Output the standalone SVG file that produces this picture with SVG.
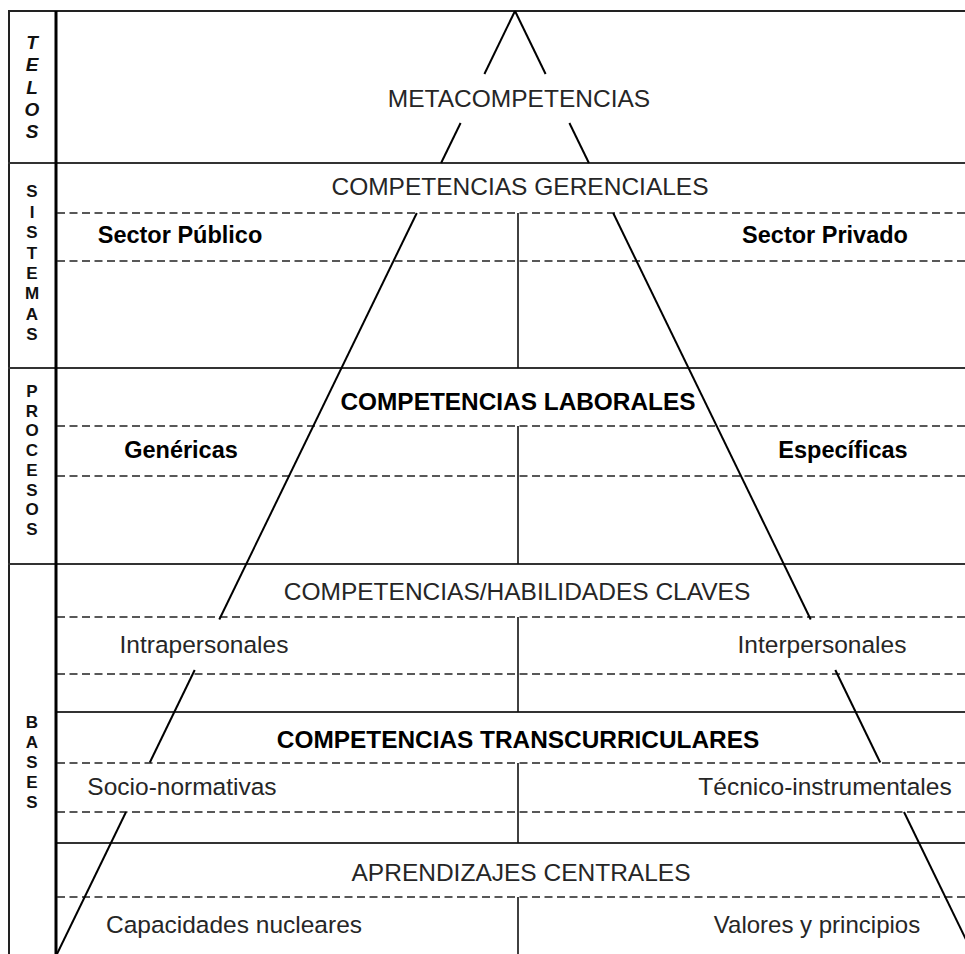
<svg xmlns="http://www.w3.org/2000/svg" width="965" height="954" viewBox="0 0 965 954">
  <style>
    .bg { fill: #ffffff; }
    .frame { stroke: #222; stroke-width: 2; fill: none; }
    .axis { stroke: #000; stroke-width: 3; fill: none; }
    .rule { stroke: #333; stroke-width: 2; fill: none; }
    .dash { stroke: #222; stroke-width: 1.6; stroke-dasharray: 8 4.5; fill: none; }
    .split { stroke: #111; stroke-width: 1.6; fill: none; }
    .edge { stroke: #000; stroke-width: 2; fill: none; stroke-linecap: butt; }
    .t { font-family: "Liberation Sans", Arial, sans-serif; font-size: 24.5px; fill: #262626; text-anchor: middle; }
    .tb { font-family: "Liberation Sans", Arial, sans-serif; font-size: 24.4px; font-weight: bold; fill: #000; text-anchor: middle; }
    .sub { font-family: "Liberation Sans", Arial, sans-serif; font-size: 23.5px; font-weight: bold; fill: #000; text-anchor: middle; }
    .side { font-family: "Liberation Sans", Arial, sans-serif; font-size: 17px; font-weight: bold; fill: #111; text-anchor: middle; }
    .sideit { font-family: "Liberation Sans", Arial, sans-serif; font-size: 19px; font-weight: bold; font-style: italic; fill: #111; text-anchor: middle; }
  </style>

  <rect class="bg" x="0" y="0" width="965" height="954"/>

  <!-- outer frame and level separators -->
  <g id="frame">
    <line class="frame" x1="8" y1="11" x2="965" y2="11"/>
    <line class="frame" x1="9" y1="11" x2="9" y2="954"/>
    <line class="rule" x1="8" y1="163" x2="965" y2="163"/>
    <line class="rule" x1="8" y1="368" x2="965" y2="368"/>
    <line class="rule" x1="8" y1="564" x2="965" y2="564"/>
    <line class="rule" x1="56" y1="712" x2="965" y2="712"/>
    <line class="rule" x1="56" y1="843" x2="965" y2="843"/>
    <line class="axis" x1="56" y1="11" x2="56" y2="954"/>
  </g>

  <!-- dashed sub-row dividers -->
  <g id="subrows">
    <line class="dash" x1="57" y1="213" x2="965" y2="213"/>
    <line class="dash" x1="57" y1="261" x2="965" y2="261"/>
    <line class="dash" x1="57" y1="426" x2="965" y2="426"/>
    <line class="dash" x1="57" y1="476" x2="965" y2="476"/>
    <line class="dash" x1="57" y1="617" x2="965" y2="617"/>
    <line class="dash" x1="57" y1="674" x2="965" y2="674"/>
    <line class="dash" x1="57" y1="763" x2="965" y2="763"/>
    <line class="dash" x1="57" y1="812" x2="965" y2="812"/>
    <line class="dash" x1="57" y1="897" x2="965" y2="897"/>
  </g>

  <!-- central splits between left/right categories -->
  <g id="splits">
    <line class="split" x1="518" y1="213" x2="518" y2="368"/>
    <line class="split" x1="518" y1="426" x2="518" y2="564"/>
    <line class="split" x1="518" y1="617" x2="518" y2="712"/>
    <line class="split" x1="518" y1="763" x2="518" y2="843"/>
    <line class="split" x1="518" y1="897" x2="518" y2="954"/>
  </g>

  <!-- pyramid edges, interrupted behind the label rows -->
  <g id="connectors">
    <!-- left edge: x = 515 - 0.486 (y - 11) -->
    <line class="edge" x1="515" y1="11" x2="484.4" y2="74"/>
    <line class="edge" x1="460.6" y1="123" x2="441.1" y2="163"/>
    <line class="edge" x1="416.8" y1="213" x2="219.3" y2="619.5"/>
    <line class="edge" x1="194.7" y1="670" x2="149.8" y2="762.5"/>
    <line class="edge" x1="126" y1="812" x2="57" y2="954"/>
    <!-- right edge: x = 515 + 0.486 (y - 11) -->
    <line class="edge" x1="515" y1="11" x2="545.6" y2="74"/>
    <line class="edge" x1="569.4" y1="123" x2="588.9" y2="163"/>
    <line class="edge" x1="613.2" y1="213" x2="810.7" y2="619.5"/>
    <line class="edge" x1="835.3" y1="670" x2="880.2" y2="762.5"/>
    <line class="edge" x1="904" y1="812" x2="973" y2="954"/>
  </g>

  <!-- side column: level names -->
  <g id="side-telos">
    <text class="sideit" x="32" y="49">T</text>
    <text class="sideit" x="32" y="71">E</text>
    <text class="sideit" x="32" y="94">L</text>
    <text class="sideit" x="32" y="116">O</text>
    <text class="sideit" x="32" y="138">S</text>
  </g>
  <g id="side-sistemas">
    <text class="side" x="32" y="197">S</text>
    <text class="side" x="32" y="217.5">I</text>
    <text class="side" x="32" y="238">S</text>
    <text class="side" x="32" y="258.5">T</text>
    <text class="side" x="32" y="279">E</text>
    <text class="side" x="32" y="299">M</text>
    <text class="side" x="32" y="319.5">A</text>
    <text class="side" x="32" y="340">S</text>
  </g>
  <g id="side-procesos">
    <text class="side" x="32" y="397">P</text>
    <text class="side" x="32" y="416.7">R</text>
    <text class="side" x="32" y="436.4">O</text>
    <text class="side" x="32" y="456">C</text>
    <text class="side" x="32" y="475.8">E</text>
    <text class="side" x="32" y="495.5">S</text>
    <text class="side" x="32" y="515.2">O</text>
    <text class="side" x="32" y="535">S</text>
  </g>
  <g id="side-bases">
    <text class="side" x="32" y="728">B</text>
    <text class="side" x="32" y="748">A</text>
    <text class="side" x="32" y="768">S</text>
    <text class="side" x="32" y="788">E</text>
    <text class="side" x="32" y="808">S</text>
  </g>

  <!-- pyramid levels -->
  <g id="metacompetencias">
    <text class="t" x="519" y="107">METACOMPETENCIAS</text>
  </g>
  <g id="gerenciales">
    <text class="t" x="520" y="195">COMPETENCIAS GERENCIALES</text>
    <text class="sub" x="180" y="243">Sector Público</text>
    <text class="sub" x="825" y="243">Sector Privado</text>
  </g>
  <g id="laborales">
    <text class="tb" x="518" y="410">COMPETENCIAS LABORALES</text>
    <text class="sub" x="181" y="458">Genéricas</text>
    <text class="sub" x="843" y="458">Específicas</text>
  </g>
  <g id="claves">
    <text class="t" x="517" y="600">COMPETENCIAS/HABILIDADES CLAVES</text>
    <text class="t" x="204" y="653">Intrapersonales</text>
    <text class="t" x="822" y="653">Interpersonales</text>
  </g>
  <g id="transcurriculares">
    <text class="tb" x="518" y="748">COMPETENCIAS TRANSCURRICULARES</text>
    <text class="t" x="182" y="795">Socio-normativas</text>
    <text class="t" x="825" y="795">Técnico-instrumentales</text>
  </g>
  <g id="aprendizajes">
    <text class="t" x="521" y="881">APRENDIZAJES CENTRALES</text>
    <text class="t" x="234" y="933">Capacidades nucleares</text>
    <text class="t" x="817" y="933" style="font-size:24px">Valores y principios</text>
  </g>
</svg>
